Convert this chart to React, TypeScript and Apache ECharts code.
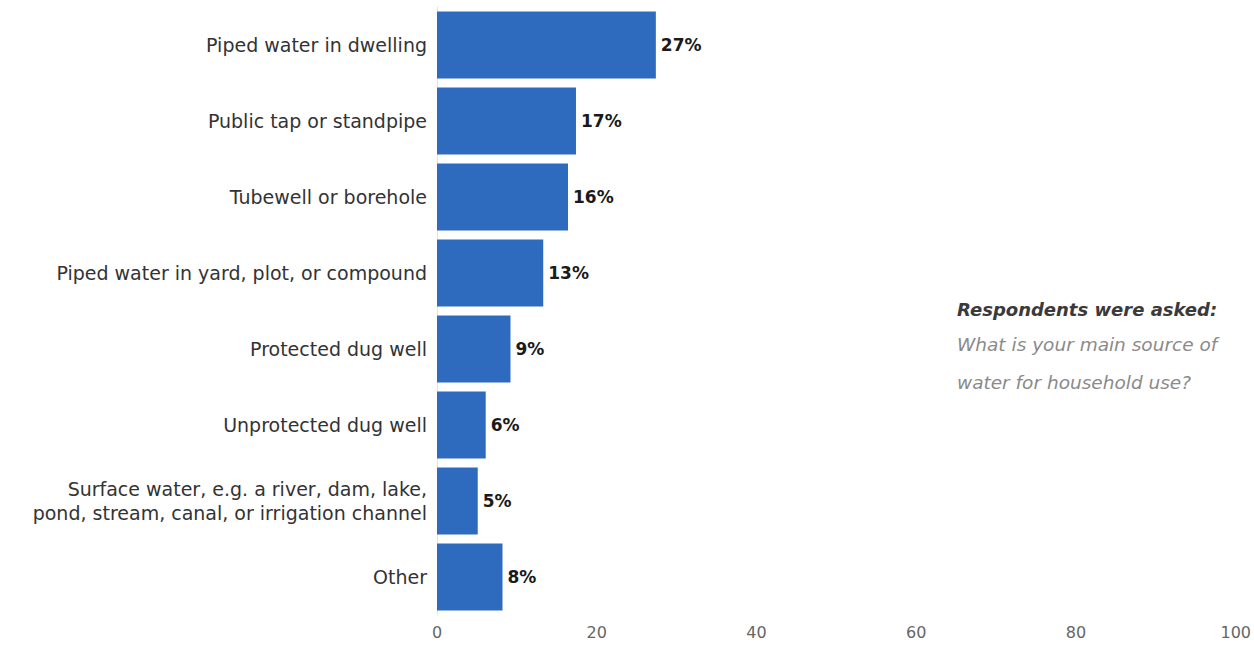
import React, { useEffect, useRef } from "react";
import * as echarts from "echarts";

const categories = [
  "Piped water in dwelling",
  "Public tap or standpipe",
  "Tubewell or borehole",
  "Piped water in yard, plot, or compound",
  "Protected dug well",
  "Unprotected dug well",
  "Surface water, e.g. a river, dam, lake,\npond, stream, canal, or irrigation channel",
  "Other",
];
const values = [27.4, 17.4, 16.4, 13.3, 9.2, 6.1, 5.1, 8.2];
const xTicks = [0, 20, 40, 60, 80, 100];
const noteTitle = "Respondents were asked:";
const noteLines = ["What is your main source of", "water for household use?"];

const FONT = "'DejaVu Sans', 'Noto Sans', sans-serif";

export default function App() {
  const ref = useRef<HTMLDivElement>(null);
  useEffect(() => {
    const chart = echarts.init(ref.current!, undefined, { renderer: "svg" });
    chart.setOption({
      animation: false,
      backgroundColor: "#ffffff",
      grid: { left: 437, right: 16, top: 7, bottom: 30, containLabel: false },
      xAxis: {
        type: "value",
        min: xTicks[0],
        max: xTicks[xTicks.length - 1],
        interval: 20,
        axisLine: { show: false },
        axisTick: { show: false },
        splitLine: { show: false },
        axisLabel: {
          color: "#666666",
          fontFamily: FONT,
          fontSize: 16,
          margin: 9,
        },
      },
      yAxis: {
        type: "category",
        inverse: true,
        data: categories,
        axisLine: { show: true, lineStyle: { color: "#e4e4e4", width: 1 } },
        axisTick: { show: false },
        axisLabel: {
          color: "#333333",
          fontFamily: FONT,
          fontSize: 19,
          margin: 10,
          lineHeight: 24,
          align: "right",
        },
      },
      series: [
        {
          type: "bar",
          data: values,
          barCategoryGap: "12%",
          itemStyle: { color: "#2e6abd" },
          label: {
            show: true,
            position: "right",
            distance: 5,
            color: "#1a1a1a",
            fontFamily: FONT,
            fontWeight: "bold",
            fontSize: 17,
            formatter: (p: any) => Math.round(p.value) + "%",
          },
        },
      ],
      graphic: [
        {
          type: "text",
          left: 957,
          top: 300,
          style: {
            text: noteTitle,
            fill: "#3a3a3a",
            font: `italic bold 18px ${FONT}`,
          },
        },
        {
          type: "text",
          left: 957,
          top: 325,
          style: {
            text: noteLines.join("\n"),
            fill: "#8a8a8a",
            font: `italic 18.5px ${FONT}`,
            lineHeight: 38,
          },
        },
      ],
    });
    return () => chart.dispose();
  }, []);
  return (
    <div
      ref={ref}
      style={{ position: "fixed", left: 0, top: 0, width: 1254, height: 645 }}
    />
  );
}
